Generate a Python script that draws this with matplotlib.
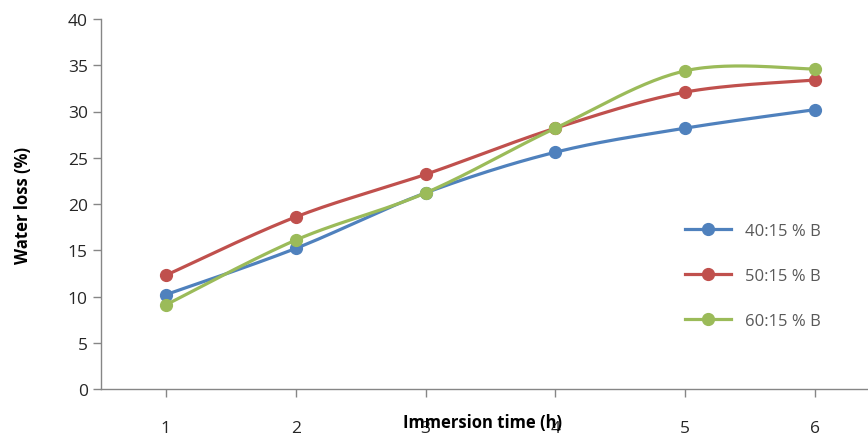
import numpy as np
import matplotlib
matplotlib.use("Agg")
import matplotlib.pyplot as plt

# data
hours = [1, 2, 3, 4, 5, 6]
loss_40 = [10.2, 15.2, 21.2, 25.6, 28.2, 30.2]
loss_50 = [12.3, 18.6, 23.2, 28.2, 32.1, 33.4]
loss_60 = [9.1, 16.1, 21.2, 28.2, 34.4, 34.6]
labels = ["40:15 % B", "50:15 % B", "60:15 % B"]
colors = ["#4F81BD", "#C0504D", "#9BBB59"]

plt.rcParams["font.family"] = ["Open Sans", "DejaVu Sans"]


def smooth(x, y, n=30):
    # Excel-like smoothed line: cubic bezier with catmull-rom control points
    x = np.asarray(x, float)
    y = np.asarray(y, float)
    px, py = [x[0]], [y[0]]
    for i in range(len(x) - 1):
        x0, y0 = (x[i - 1], y[i - 1]) if i > 0 else (x[i], y[i])
        x3, y3 = (x[i + 2], y[i + 2]) if i + 2 < len(x) else (x[i + 1], y[i + 1])
        c1x = x[i] + (x[i + 1] - x0) / 6
        c1y = y[i] + (y[i + 1] - y0) / 6
        c2x = x[i + 1] - (x3 - x[i]) / 6
        c2y = y[i + 1] - (y3 - y[i]) / 6
        t = np.linspace(0, 1, n)[1:]
        bx = (1 - t) ** 3 * x[i] + 3 * (1 - t) ** 2 * t * c1x + 3 * (1 - t) * t ** 2 * c2x + t ** 3 * x[i + 1]
        by = (1 - t) ** 3 * y[i] + 3 * (1 - t) ** 2 * t * c1y + 3 * (1 - t) * t ** 2 * c2y + t ** 3 * y[i + 1]
        px.extend(bx)
        py.extend(by)
    return np.array(px), np.array(py)


fig = plt.figure(figsize=(8.68, 4.35), dpi=100)
ax = fig.add_axes([101 / 868, 45 / 435, 779 / 868, 370 / 435])

for vals, lab, col in zip([loss_40, loss_50, loss_60], labels, colors):
    sx, sy = smooth(hours, vals)
    ax.plot(sx, sy, color=col, lw=2.3, solid_capstyle="round")
    ax.plot(hours, vals, "o", color=col, ms=8.5)
    # legend proxy
    ax.plot([], [], "-o", color=col, lw=2.3, ms=8.5, label=lab)

ax.set_xlim(0.5, 6.5)
ax.set_ylim(0, 40)
ax.set_xticks(hours)
ax.set_yticks(range(0, 41, 5))

for s in ["top", "right"]:
    ax.spines[s].set_visible(False)
for s in ["left", "bottom"]:
    ax.spines[s].set_color("#868686")
    ax.spines[s].set_linewidth(1.0)
ax.tick_params(axis="both", colors="#868686", labelcolor="#262626", labelsize=12.5, length=6, width=1)
ax.tick_params(axis="x", pad=16)

ax.set_xlabel("Immersion time (h)", fontsize=12, fontweight="bold", color="black")
ax.xaxis.set_label_coords(0.49, -0.065)
ax.set_ylabel("Water loss (%)", fontsize=12, fontweight="bold", color="black")
ax.yaxis.set_label_coords(-0.088, 0.5)

leg = ax.legend(loc="upper left", bbox_to_anchor=(0.73, 0.49), frameon=False,
                fontsize=12, labelspacing=1.75, handlelength=2.8, handletextpad=0.8)
for t in leg.get_texts():
    t.set_color("#595959")

fig.savefig("out.png", dpi=100)
